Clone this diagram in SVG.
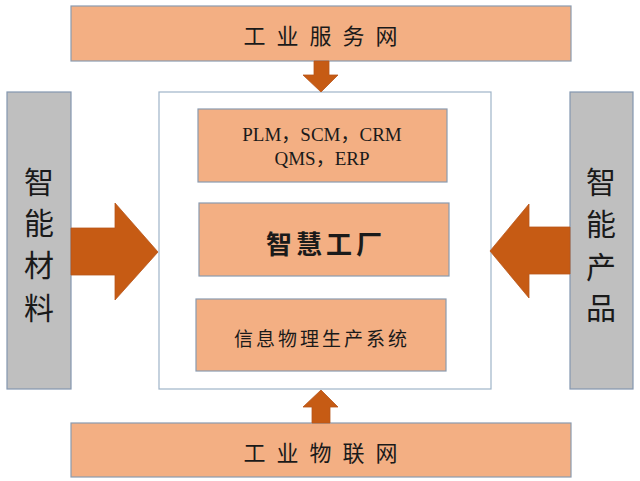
<svg xmlns="http://www.w3.org/2000/svg" width="640" height="481" viewBox="0 0 640 481">
<defs>
<style>
.orange{fill:#F3AF83;stroke:#8A9BB0;stroke-width:1.2}
.gray{fill:#BFBFBF;stroke:#8497B0;stroke-width:1.2}
.inner{fill:#FFFFFF;stroke:#9FB4C8;stroke-width:1.2}
.arrow{fill:#C65B14;stroke:#B8561A;stroke-width:0.8}
.cjk{font-family:"Noto Sans CJK SC","Noto Sans CJK JP",sans-serif;fill:#1a1a1a;text-anchor:middle;dominant-baseline:central}
.lat{font-family:"Liberation Serif","Noto Sans CJK SC",serif;fill:#1a1a1a;text-anchor:middle;dominant-baseline:central}
</style>
</defs>
<rect width="640" height="481" fill="#FFFFFF"/>
<g id="top">
<rect class="orange" x="71" y="6" width="500" height="55"/>
<text class="cjk" x="326" y="34" font-size="22" letter-spacing="11">工业服务网</text>
</g>
<g id="bottom">
<rect class="orange" x="71" y="423" width="500" height="54"/>
<text class="cjk" x="326" y="451" font-size="22" letter-spacing="11">工业物联网</text>
</g>
<g id="left">
<rect class="gray" x="7" y="92" width="64" height="297"/>
<text class="cjk" x="39" y="180" font-size="30">智</text>
<text class="cjk" x="39" y="221" font-size="30">能</text>
<text class="cjk" x="39" y="263" font-size="30">材</text>
<text class="cjk" x="39" y="306" font-size="30">料</text>
</g>
<g id="right">
<rect class="gray" x="570" y="92" width="63" height="297"/>
<text class="cjk" x="601" y="180" font-size="30">智</text>
<text class="cjk" x="601" y="222" font-size="30">能</text>
<text class="cjk" x="601" y="265" font-size="30">产</text>
<text class="cjk" x="601" y="306" font-size="30">品</text>
</g>
<g id="factory">
<rect class="inner" x="159" y="92" width="332" height="297"/>
</g>
<g id="systems">
<rect class="orange" x="198" y="109" width="249" height="73"/>
<text class="lat" x="322" y="134" font-size="19">PLM，SCM，CRM</text>
<text class="lat" x="322" y="158" font-size="19">QMS，ERP</text>
</g>
<g id="smart-factory">
<rect class="orange" x="199" y="203" width="250" height="73"/>
<text class="cjk" x="326" y="242" font-size="26" font-weight="bold" letter-spacing="4">智慧工厂</text>
</g>
<g id="cps">
<rect class="orange" x="196" y="299" width="250" height="72"/>
<text class="cjk" x="322" y="337" font-size="19" letter-spacing="3">信息物理生产系统</text>
</g>
<g id="connectors">
<polygon class="arrow" points="314,61 329,61 329,75 338,75 321,92 303,75 314,75"/>
<polygon class="arrow" points="312,423 330,423 330,407 338,407 321,390 303,407 312,407"/>
<polygon class="arrow" points="71,228 115,228 115,203 158,252 115,300 115,275 71,275"/>
<polygon class="arrow" points="570,227 529,227 529,204 490,251 529,298 529,274 570,274"/>
</g>
</svg>
